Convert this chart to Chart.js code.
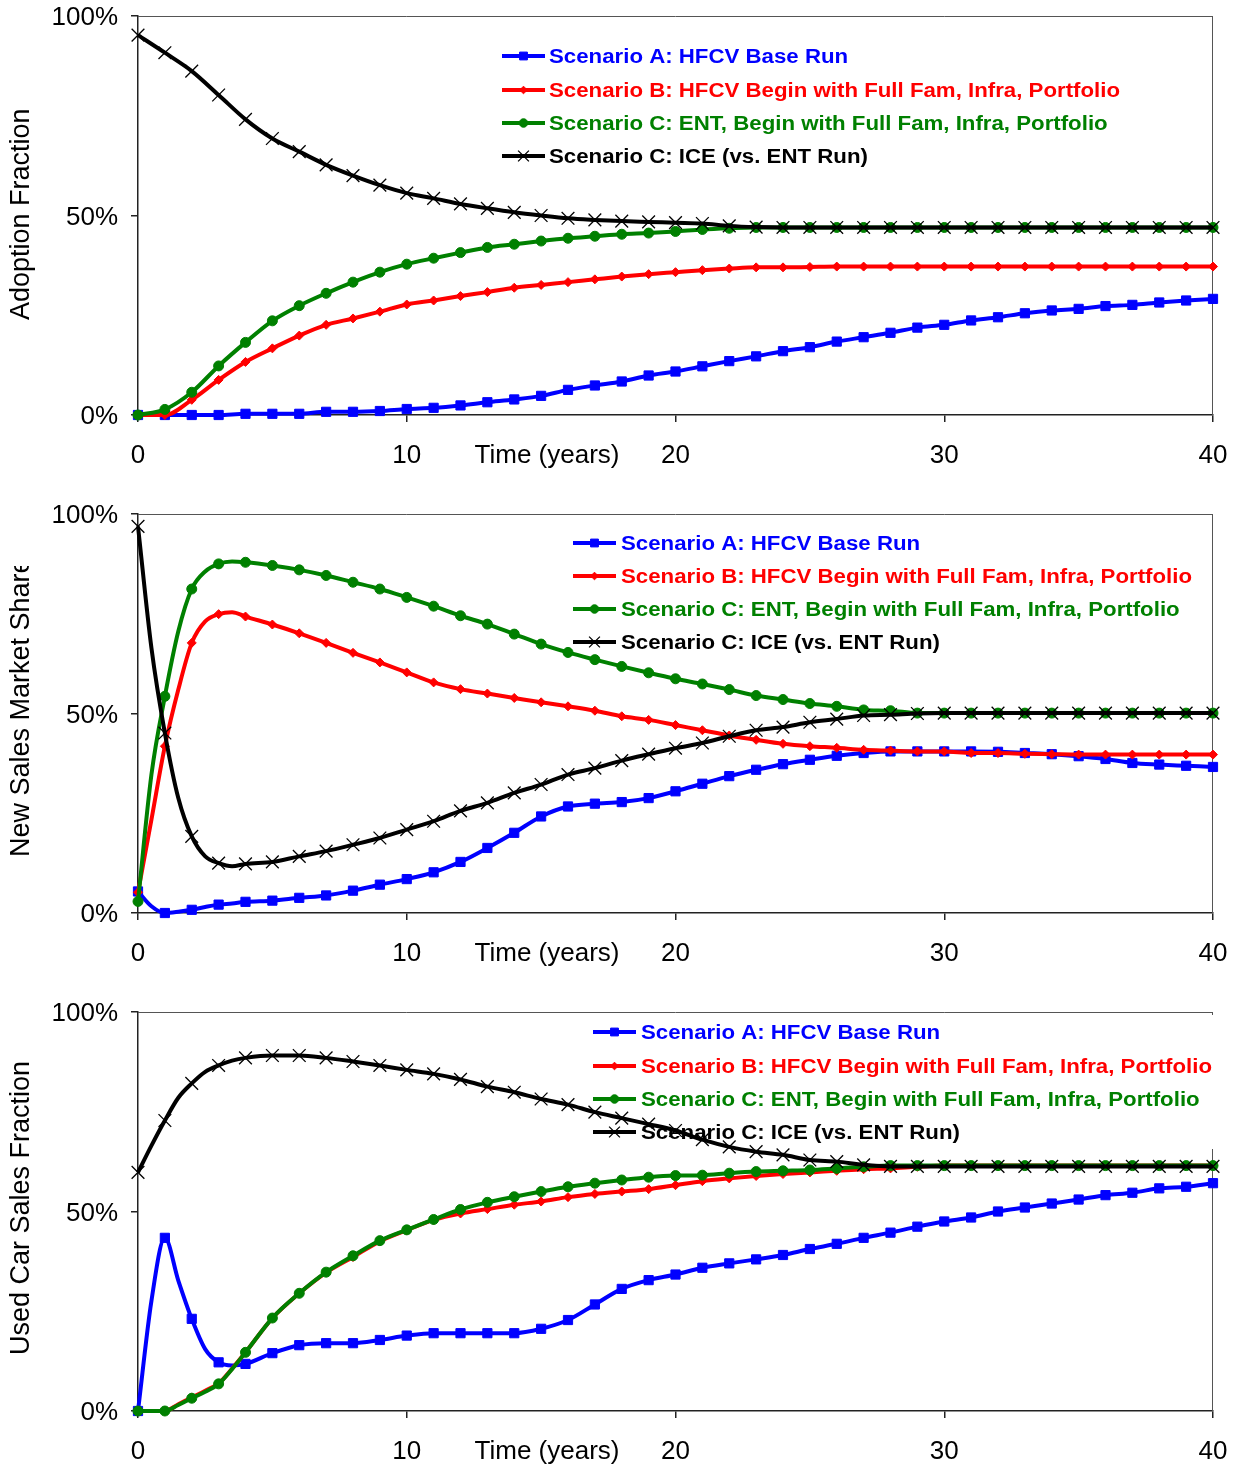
<!DOCTYPE html>
<html>
<head>
<meta charset="utf-8">
<script src="https://cdn.jsdelivr.net/npm/chart.js@4.4.1/dist/chart.umd.min.js"></script>
<style>
html,body{margin:0;padding:0;background:#fff;overflow:hidden;width:1239px;height:1466px}
.panel{position:absolute;left:0;width:1239px;height:498px}
</style>
</head>
<body>
<div class="panel" style="top:0"><canvas id="adoption"></canvas></div>
<div class="panel" style="top:498px"><canvas id="share"></canvas></div>
<div class="panel" style="top:996px"><canvas id="used"></canvas></div>
<script>
// ---- data ----
const seriesNames = [
  "Scenario A: HFCV Base Run",
  "Scenario B: HFCV Begin with Full Fam, Infra, Portfolio",
  "Scenario C: ENT, Begin with Full Fam, Infra, Portfolio",
  "Scenario C: ICE (vs. ENT Run)"
];
const xTicks = [0, 10, 20, 30, 40];
const yTicks = [0, 50, 100];
const axisTitles = ["Adoption Fraction", "New Sales Market Share", "Used Car Sales Fraction"];
const xTitle = "Time (years)";

const yearsAdoption = [0,1,2,3,4,5,6,7,8,9,10,11,12,13,14,15,16,17,18,19,20,21,22,23,24,25,26,27,28,29,30,31,32,33,34,35,36,37,38,39,40];
const yearsSales = [0,0.5,1,1.5,2,2.5,3,3.5,4,5,6,7,8,9,10,11,12,13,14,15,16,17,18,19,20,21,22,23,24,25,26,27,28,29,30,31,32,33,34,35,36,37,38,39,40];

// adoption fraction (%)
const adoptA = [0,0,0,0,0.3,0.3,0.3,0.8,0.8,1.0,1.5,1.8,2.4,3.2,3.9,4.8,6.3,7.4,8.4,9.9,10.9,
  12.2,13.5,14.7,16.0,17.0,18.4,19.5,20.6,21.9,22.6,23.7,24.5,25.5,26.2,26.6,27.3,27.6,28.2,28.7,29.1];
const adoptB = [0,0,3.8,8.8,13.3,16.7,19.9,22.6,24.2,25.9,27.7,28.7,29.8,30.8,31.9,32.6,33.3,34.0,34.7,35.3,35.8,
  36.3,36.7,37.0,37.0,37.1,37.2,37.2,37.2,37.2,37.2,37.2,37.2,37.2,37.2,37.2,37.2,37.2,37.2,37.2,37.2];
const adoptC = [0,1.4,5.7,12.3,18.2,23.6,27.4,30.5,33.3,35.8,37.8,39.3,40.7,42.0,42.8,43.6,44.3,44.8,45.3,45.6,46.0,
  46.5,46.8,47.0,47.0,47.0,47.0,47.0,47.0,47.0,47.0,47.0,47.0,47.0,47.0,47.0,47.0,47.0,47.0,47.0,47.0];
const adoptIce = [95.2,90.8,86.2,80.2,74.1,69.3,66.0,62.7,60.0,57.6,55.6,54.3,52.9,51.8,50.8,50.0,49.3,48.9,48.6,48.4,48.2,
  48.0,47.4,47.1,47.0,47.0,47.0,47.0,47.0,47.0,47.0,47.0,47.0,47.0,47.0,47.0,47.0,47.0,47.0,47.0,47.0];

// new sales market share (%)
const shareA = [5.4,1.7,0,0.3,0.8,1.5,2.1,2.4,
  2.8,3.1,3.8,4.4,5.6,7.1,8.5,10.2,12.8,16.3,20.1,24.2,26.7,27.4,27.8,28.8,30.5,
  32.4,34.3,35.9,37.3,38.4,39.4,40.1,40.5,40.5,40.5,40.5,40.4,40.1,39.8,39.3,38.6,37.6,37.2,36.9,36.6];
const shareB = [5.2,23.4,41.8,56.0,67.7,73.1,74.9,75.4,
  74.3,72.3,70.1,67.7,65.2,62.8,60.3,57.8,56.1,55.0,53.9,52.8,51.8,50.7,49.3,48.4,47.1,
  45.8,44.5,43.4,42.4,41.8,41.4,40.9,40.7,40.5,40.5,40.1,40.1,39.9,39.8,39.7,39.7,39.7,39.7,39.7,39.7];
const shareC = [2.9,34.7,54.3,70.6,81.2,85.6,87.5,88.1,
  87.9,87.1,86.0,84.6,82.9,81.2,79.1,76.9,74.5,72.4,69.9,67.4,65.3,63.5,61.8,60.2,58.7,
  57.4,56.0,54.5,53.5,52.5,51.8,50.9,50.7,50.1,50.1,50.1,50.1,50.1,50.1,50.1,50.1,50.1,50.1,50.1,50.1];
const shareIce = [96.9,66.4,45.1,28.8,19.2,14.2,12.5,11.7,
  12.3,12.8,14.2,15.5,17.1,18.8,20.9,23.0,25.6,27.6,30.1,32.2,34.7,36.3,38.2,39.8,41.3,
  42.6,44.3,45.8,46.6,47.8,48.6,49.5,49.7,50.0,50.1,50.1,50.1,50.1,50.1,50.1,50.1,50.1,50.1,50.1,50.1];

// used car sales fraction (%)
const usedA = [0,27.6,43.4,32.7,23.1,15.5,12.2,11.4,
  11.8,14.5,16.5,17.0,17.0,17.8,18.9,19.5,19.5,19.5,19.5,20.6,22.8,26.7,30.6,32.8,34.2,
  35.9,37.0,38.0,39.1,40.6,41.9,43.4,44.7,46.2,47.5,48.5,50.0,51.0,52.0,53.0,54.1,54.7,55.8,56.2,57.1];
const usedB = [0,0,0,1.7,3.4,5.1,6.9,10.6,
  14.7,23.3,29.5,34.7,38.6,42.5,45.3,47.9,49.5,50.6,51.7,52.5,53.6,54.4,55.0,55.6,56.6,
  57.6,58.3,58.9,59.4,59.8,60.2,60.6,60.8,61.2,61.5,61.5,61.5,61.5,61.5,61.5,61.5,61.5,61.5,61.5,61.5];
const usedC = [0,0,0,1.5,3.2,4.8,6.8,10.5,
  14.7,23.3,29.5,34.8,38.9,42.7,45.4,48.0,50.5,52.3,53.7,55.0,56.2,57.1,57.9,58.6,59.0,
  59.1,59.6,60.0,60.2,60.4,60.8,61.2,61.5,61.5,61.5,61.5,61.5,61.5,61.5,61.5,61.5,61.5,61.5,61.5,61.5];
const usedIce = [59.8,66.5,72.8,78.5,82.1,85.0,86.6,87.8,
  88.5,89.1,89.1,88.5,87.6,86.6,85.5,84.5,83.1,81.3,79.9,78.2,76.8,74.9,73.4,71.9,70.3,
  68.0,66.2,65.0,64.2,62.9,62.5,61.7,61.3,61.3,61.3,61.3,61.3,61.3,61.3,61.3,61.3,61.3,61.3,61.3,61.3];

// ---- styles ----
const FONT = '"Liberation Sans", Arial, Helvetica, sans-serif';
const STYLES = [
  {color:"#0000ff", point:"rect", r:6.5, bw:1},
  {color:"#ff0000", point:"rectRot", r:4.5, bw:1},
  {color:"#008000", point:"circle", r:5, bw:1},
  {color:"#000000", point:"crossRot", r:9, bw:1.3}
];

function makeSet(i, xs, ys){
  const s = STYLES[i];
  return {
    label: seriesNames[i],
    data: xs.map((x,k)=>({x, y: ys[k]})),
    borderColor: s.color, backgroundColor: s.color,
    borderWidth: 4,
    pointStyle: s.point, pointBorderWidth: s.bw,
    pointRadius: c => (c.raw && Number.isInteger(c.raw.x)) ? s.r : 0,
    pointHoverRadius: 0,
    cubicInterpolationMode: "monotone",
    clip: false,
    order: 3 - i
  };
}

const decor = {
  id: "decor",
  beforeDatasetsDraw(chart, args, o){
    const {ctx, chartArea:a} = chart;
    ctx.save();
    // top and right frame
    ctx.strokeStyle = "#555"; ctx.lineWidth = 1;
    ctx.beginPath();
    ctx.moveTo(a.left, a.top + 0.5); ctx.lineTo(a.right, a.top + 0.5);
    ctx.moveTo(a.right - 0.5, a.top); ctx.lineTo(a.right - 0.5, a.bottom);
    ctx.stroke();
    // legend
    ctx.font = "bold 20px " + FONT;
    const sx = 571 / ctx.measureText(seriesNames[1]).width;
    ctx.fillStyle = "#fff";
    ctx.fillRect(o.lineX - 4, o.rows[0] - 17, o.textX + 580 - o.lineX, o.rows[3] - o.rows[0] + 34);
    o.rows.forEach((y, i) => {
      const s = STYLES[i];
      ctx.strokeStyle = s.color; ctx.fillStyle = s.color; ctx.lineWidth = 4;
      ctx.beginPath(); ctx.moveTo(o.lineX, y); ctx.lineTo(o.lineX + 43, y); ctx.stroke();
      ctx.lineWidth = s.bw;
      Chart.helpers.drawPoint(ctx, {pointStyle:s.point, radius:s.r * 0.85, rotation:0, borderWidth:s.bw}, o.lineX + 21.5, y);
      ctx.save();
      ctx.translate(o.textX, y);
      ctx.scale(sx, 1);
      ctx.fillStyle = s.color;
      ctx.textAlign = "left"; ctx.textBaseline = "middle";
      ctx.fillText(seriesNames[i], 0, 1);
      ctx.restore();
    });
    ctx.restore();
  },
  afterDraw(chart, args, o){
    const {ctx} = chart;
    ctx.save();
    // rotated y title
    ctx.save();
    ctx.beginPath(); ctx.rect(0, o.clipTop, 80, 498); ctx.clip();
    ctx.translate(22, o.titleBottom);
    ctx.rotate(-Math.PI / 2);
    ctx.font = "27px " + FONT; ctx.fillStyle = "#000";
    ctx.textAlign = "left"; ctx.textBaseline = "middle";
    ctx.fillText(o.title, 0, 0);
    ctx.restore();
    // x title sitting in tick label row
    ctx.font = "26px " + FONT; ctx.fillStyle = "#000";
    ctx.textAlign = "center"; ctx.textBaseline = "alphabetic";
    ctx.fillText(xTitle, 547, 463);
    ctx.restore();
  }
};

function axisOpts(isX){
  return {
    type: "linear",
    min: 0, max: isX ? 40 : 100,
    afterBuildTicks: s => { s.ticks = (isX ? xTicks : yTicks).map(v => ({value:v})); },
    afterFit: s => {
      if (isX) s.height = 83; else s.width = 138;
      // keep label overflow from pushing the plot area around
      s.paddingTop = 0; s.paddingBottom = 0; s.paddingLeft = 0; s.paddingRight = 0;
    },
    grid: {display:true, drawOnChartArea:false, drawTicks:true, tickLength:7, color:"#222", lineWidth:1.5},
    border: {display:true, color:"#222", width:1.5},
    ticks: {
      color:"#000", font:{family:FONT, size:26},
      padding: isX ? 18 : 13, labelOffset: isX ? 0 : 2, autoSkip:false, maxRotation:0,
      callback: v => isX ? String(v) : v + "%"
    }
  };
}

function makeChart(id, xs, series, legend, title, titleBottom, clipTop){
  return new Chart(document.getElementById(id), {
    type: "line",
    data: {datasets: series.map((ys, i) => makeSet(i, xs, ys))},
    options: {
      responsive: true, maintainAspectRatio: false, animation: false, devicePixelRatio: 1,
      events: [],
      layout: {padding: {top:16, right:26, left:0, bottom:0}},
      scales: {x: axisOpts(true), y: axisOpts(false)},
      plugins: {
        legend: {display:false}, tooltip: {enabled:false},
        decor: {lineX: legend.lineX, textX: legend.textX, rows: legend.rows, title, titleBottom, clipTop}
      }
    },
    plugins: [decor]
  });
}

makeChart("adoption", yearsAdoption, [adoptA, adoptB, adoptC, adoptIce],
  {lineX:502, textX:549, rows:[56, 90, 123, 156]}, axisTitles[0], 320, 0);
makeChart("share", yearsSales, [shareA, shareB, shareC, shareIce],
  {lineX:573, textX:621, rows:[45, 78, 111, 144]}, axisTitles[1], 359, 68);
makeChart("used", yearsSales, [usedA, usedB, usedC, usedIce],
  {lineX:593, textX:641, rows:[36, 70, 103, 136]}, axisTitles[2], 359, 0);
</script>
</body>
</html>
